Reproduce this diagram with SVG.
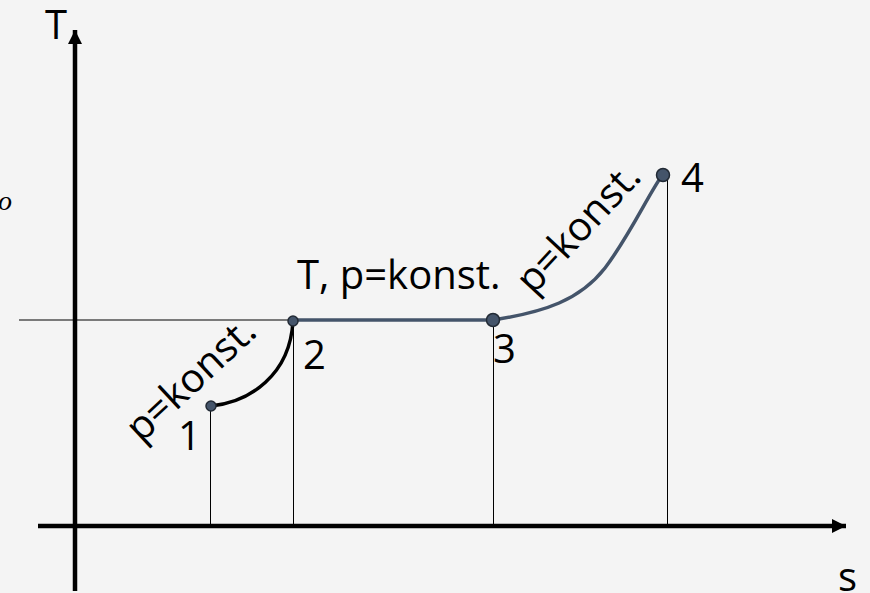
<svg xmlns="http://www.w3.org/2000/svg" width="870" height="593" viewBox="0 0 870 593">
<defs>
<style>
.lbl{font-family:"Open Sans","Noto Sans",sans-serif;font-size:40px;fill:#000}
.thin{stroke:#000;stroke-width:1;fill:none}
.axis{stroke:#000;stroke-width:4.5;fill:none}
.slate{stroke:#44546a;stroke-width:3.5;fill:none}
.pt{fill:#44546a;stroke:#222a35;stroke-width:1.5}
</style>
<marker id="arr" markerWidth="14" markerHeight="14" refX="14" refY="7" orient="auto" markerUnits="userSpaceOnUse">
<path d="M0,0 L14,7 L0,14 Z" fill="#000"/>
</marker>
</defs>
<rect width="870" height="593" fill="#f4f4f4"/>
<g id="axes">
<line class="axis" x1="75" y1="591" x2="75" y2="30" marker-end="url(#arr)"/>
<line class="axis" x1="38" y1="526" x2="846" y2="526" marker-end="url(#arr)"/>
<text class="lbl" x="45" y="39">T</text>
<text class="lbl" x="838" y="591">s</text>
<text x="-2" y="210" font-family="Liberation Serif, serif" font-style="italic" font-size="28">o</text>
</g>
<g id="connectors">
<line class="thin" x1="19" y1="320" x2="358" y2="320" stroke-width="2"/>
<line class="thin" x1="210.5" y1="406" x2="210.5" y2="526"/>
<line class="thin" x1="293.5" y1="320" x2="293.5" y2="526"/>
<line class="thin" x1="493.5" y1="320" x2="493.5" y2="526"/>
<line class="thin" x1="667.5" y1="176" x2="667.5" y2="526"/>
<path d="M211,406 C250,402 290,375 293,321" stroke="#000" stroke-width="3.5" fill="none"/>
<line class="slate" x1="293" y1="320" x2="493" y2="320"/>
<path class="slate" d="M493,320 C545,312 580,300 605,268 C630,235 648,195 663,174"/>
</g>
<g id="p1"><circle class="pt" cx="211" cy="406" r="5"/><text class="lbl" x="178" y="450">1</text></g>
<g id="p2"><circle class="pt" cx="293" cy="321" r="5"/><text class="lbl" x="303" y="369">2</text></g>
<g id="p3"><circle class="pt" cx="493" cy="320" r="6.5" stroke="none"/><text class="lbl" x="493" y="363">3</text></g>
<g id="p4"><circle class="pt" cx="663" cy="175" r="6.5" stroke="none"/><text class="lbl" x="681" y="192">4</text></g>
<g id="labels">
<text class="lbl" x="297" y="289">T, p=konst.</text>
<text class="lbl" text-anchor="middle" transform="translate(200,389) rotate(-43)">p=konst.</text>
<text class="lbl" text-anchor="middle" transform="translate(588,237) rotate(-47)">p=konst.</text>
</g>
</svg>
